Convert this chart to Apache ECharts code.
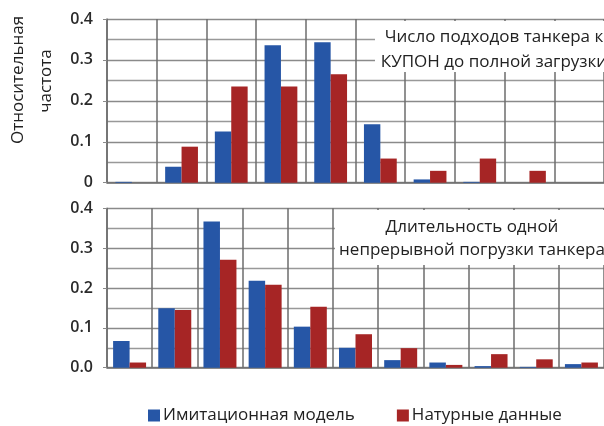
<!DOCTYPE html>
<html><head><meta charset="utf-8">
<script src="https://cdn.jsdelivr.net/npm/echarts@6/dist/echarts.min.js"></script>
<style>html,body{margin:0;padding:0;background:#fff}#c{width:604px;height:426px}</style>
</head><body><div id="c"></div>
<script>
const seriesNames = ['Имитационная модель', 'Натурные данные'];
const topCategories = ['1','2','3','4','5','6','7','8','9','10'];
const topModel = [0.002, 0.039, 0.125, 0.336, 0.343, 0.143, 0.008, 0.002, 0, 0];
const topReal  = [0, 0.088, 0.235, 0.235, 0.265, 0.059, 0.029, 0.059, 0.029, 0];
const botCategories = ['1','2','3','4','5','6','7','8','9','10','11'];
const botModel = [0.067, 0.149, 0.367, 0.218, 0.103, 0.050, 0.019, 0.013, 0.004, 0.002, 0.009];
const botReal  = [0.013, 0.145, 0.271, 0.208, 0.153, 0.084, 0.049, 0.007, 0.034, 0.021, 0.013];
const topYLabels = ['0', '0.1', '0.2', '0.3', '0.4'];
const botYLabels = ['0.0', '0.1', '0.2', '0.3', '0.4'];
const yAxisTitle = ['Относительная', 'частота'];
const topNote = ['Число подходов танкера к', 'КУПОН до полной загрузки'];
const botNote = ['Длительность одной', 'непрерывной погрузки танкера'];

const BLUE = '#2656a6', RED = '#a62525';
const FONT = '"Open Sans", "DejaVu Sans", sans-serif';
const chart = echarts.init(document.getElementById('c'));

function yAxis(idx, labels) {
  return {
    type: 'value', gridIndex: idx, min: 0, max: 0.4, interval: 0.1,
    axisLine: {show: true, lineStyle: {color: '#6e6e6e', width: 1.5}},
    axisTick: {show: true, length: 4, lineStyle: {color: '#8a8a8a'}},
    minorTick: {show: false, splitNumber: 2},
    splitLine: {show: true, lineStyle: {color: '#8a8a8a', width: 1.3}},
    minorSplitLine: {show: true, lineStyle: {color: '#999', width: 1.3}},
    axisLabel: {
      fontFamily: FONT, fontSize: 16, fontWeight: 600, color: '#2a2a2a', margin: 14,
      formatter: v => labels[Math.round(v / 0.1)]
    }
  };
}
function xAxis(idx, cats) {
  return {
    type: 'category', gridIndex: idx, data: cats, boundaryGap: true,
    axisLine: {show: true, lineStyle: {color: '#6e6e6e', width: 1.5}},
    axisTick: {show: false},
    axisLabel: {show: false},
    splitLine: {show: true, interval: 0, lineStyle: {color: '#6c6c6c', width: 1.5}}
  };
}
function bar(name, idx, data, color, gap) {
  return {
    type: 'bar', name, xAxisIndex: idx, yAxisIndex: idx, data,
    itemStyle: {color}, barGap: '0%', barCategoryGap: gap, z: 3
  };
}
function txt(x, y, text, rotation) {
  const el = {
    type: 'text', x, y, z: 5,
    style: {text, fontFamily: FONT, fontSize: 17, fill: '#222',
      textAlign: 'center', textVerticalAlign: 'middle'}
  };
  if (rotation !== undefined) el.rotation = rotation;
  return el;
}

chart.setOption({
  animation: false,
  grid: [
    {left: 107, top: 19, width: 505, height: 163.7},
    {left: 107, top: 208.3, width: 505, height: 159.4}
  ],
  xAxis: [xAxis(0, topCategories), xAxis(1, botCategories)],
  yAxis: [yAxis(0, topYLabels), yAxis(1, botYLabels)],
  legend: {
    data: seriesNames, left: 143, top: 402, itemGap: 42,
    icon: 'rect', itemWidth: 12, itemHeight: 12,
    textStyle: {fontFamily: FONT, fontSize: 17, color: '#222', padding: [0, 0, 0, -2]}
  },
  series: [
    bar(seriesNames[0], 0, topModel, BLUE, '34%'),
    bar(seriesNames[1], 0, topReal, RED, '34%'),
    bar(seriesNames[0], 1, botModel, BLUE, '27%'),
    bar(seriesNames[1], 1, botReal, RED, '27%')
  ],
  graphic: [
    {type: 'rect', z: 4, shape: {x: 375, y: 21, width: 240, height: 51}, style: {fill: '#fff'}},
    {type: 'rect', z: 4, shape: {x: 335, y: 210, width: 280, height: 55}, style: {fill: '#fff'}},
    txt(494, 37, topNote[0]),
    txt(494, 62, topNote[1]),
    txt(472, 227, botNote[0]),
    txt(472, 250, botNote[1]),
    txt(18, 80, yAxisTitle[0], Math.PI / 2),
    txt(46, 81, yAxisTitle[1], Math.PI / 2)
  ]
});
</script></body></html>
